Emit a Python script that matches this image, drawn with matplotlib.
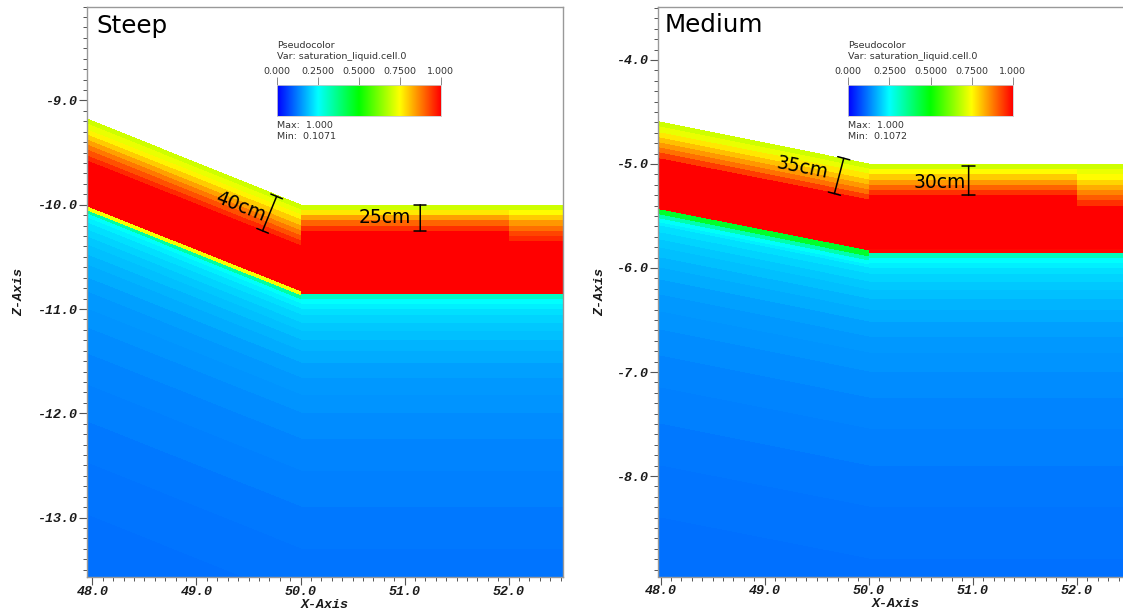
import numpy as np
import matplotlib
matplotlib.use("Agg")
import matplotlib.pyplot as plt
from matplotlib.colors import LinearSegmentedColormap
from matplotlib.ticker import MultipleLocator, FormatStrFormatter
from matplotlib.font_manager import FontProperties

# ---------------- data ----------------
# ground surface (x, z) nodes for each panel
steep_surface_x = [47.9, 50.0, 52.0, 52.6]
steep_surface_z = [-9.16, -10.0, -10.0, -10.0]
medium_surface_x = [47.9, 50.0, 52.0, 52.6]
medium_surface_z = [-4.58, -5.0, -5.0, -5.0]

# shared deep profile: layer tops (depth below surface) -> saturation
deep_depth = [1.00, 1.06, 1.13, 1.21, 1.30, 1.40, 1.52, 1.66, 1.82, 2.00,
              2.25, 2.55, 2.90, 3.30, 3.80]
deep_sat = [0.222, 0.208, 0.198, 0.188, 0.178, 0.168, 0.160, 0.152, 0.145,
            0.139, 0.132, 0.126, 0.120, 0.115, 0.110]
profile_bottom = 4.8

# Steep: slope column (48-50), flat column (50-52), right column (52-52.6)
steep_slope_depth = [0.00, 0.05, 0.10, 0.15, 0.20, 0.25, 0.30, 0.35, 0.40,
                     0.84, 0.88, 0.91, 0.95]
steep_slope_sat = [0.70, 0.73, 0.76, 0.80, 0.84, 0.88, 0.92, 0.96, 1.00,
                   0.74, 0.34, 0.255, 0.238]
steep_flat_depth = [0.00, 0.05, 0.10, 0.15, 0.20, 0.25, 0.82, 0.86, 0.90, 0.95]
steep_flat_sat = [0.70, 0.77, 0.84, 0.90, 0.95, 1.00, 0.99, 0.31, 0.252, 0.236]
steep_right_depth = [0.00, 0.05, 0.10, 0.15, 0.20, 0.25, 0.30, 0.35, 0.82,
                     0.86, 0.90, 0.95]
steep_right_sat = [0.70, 0.75, 0.80, 0.85, 0.89, 0.93, 0.96, 1.00, 0.99,
                   0.31, 0.252, 0.236]

# Medium
medium_slope_depth = [0.00, 0.05, 0.10, 0.15, 0.20, 0.25, 0.30, 0.35, 0.84,
                      0.89, 0.93, 0.97]
medium_slope_sat = [0.70, 0.73, 0.77, 0.81, 0.85, 0.89, 0.94, 1.00, 0.46,
                    0.33, 0.255, 0.235]
medium_flat_depth = [0.00, 0.05, 0.10, 0.15, 0.20, 0.25, 0.30, 0.82, 0.86,
                     0.90, 0.95]
medium_flat_sat = [0.70, 0.75, 0.80, 0.85, 0.90, 0.95, 1.00, 0.99, 0.32,
                   0.252, 0.236]
medium_right_depth = [0.00, 0.05, 0.10, 0.15, 0.20, 0.25, 0.30, 0.35, 0.40,
                      0.82, 0.86, 0.90, 0.95]
medium_right_sat = [0.70, 0.73, 0.75, 0.79, 0.83, 0.87, 0.91, 0.95, 1.00,
                    0.99, 0.32, 0.252, 0.236]

colorbar_ticks = [0.0, 0.25, 0.5, 0.75, 1.0]
colorbar_labels = ["0.000", "0.2500", "0.5000", "0.7500", "1.000"]

# ---------------- style ----------------
cmap = LinearSegmentedColormap.from_list(
    "visit_hot", [(0.0, "#0000ff"), (0.25, "#00ffff"), (0.5, "#00ff00"),
                  (0.75, "#ffff00"), (1.0, "#ff0000")])

W, H = 1123, 610
fig = plt.figure(figsize=(W / 100, H / 100), dpi=100)

tick_font = dict(family="Liberation Mono", weight="bold", style="italic", size=9.6)


def px_ax(x0, y0, x1, y1):
    return [x0 / W, 1 - y1 / H, (x1 - x0) / W, (y1 - y0) / H]


def draw_column(ax, xa, xb, za, zb, top_depth, top_sat):
    tops = list(top_depth) + list(deep_depth)
    sat = list(top_sat) + list(deep_sat)
    d = np.asarray(tops + [profile_bottom])
    X = np.column_stack([np.full(len(d), xa), np.full(len(d), xb)])
    Z = np.column_stack([za - d, zb - d])
    C = np.asarray(sat)[:, None]
    ax.pcolormesh(X, Z, C, cmap=cmap, vmin=0, vmax=1, shading="flat",
                  antialiased=False, linewidth=0)


def setup_axes(ax, xlim, ylim):
    ax.set_xlim(*xlim)
    ax.set_ylim(*ylim)
    ax.xaxis.set_major_locator(MultipleLocator(1.0))
    ax.yaxis.set_major_locator(MultipleLocator(1.0))
    ax.xaxis.set_minor_locator(MultipleLocator(0.1))
    ax.yaxis.set_minor_locator(MultipleLocator(0.1))
    ax.xaxis.set_major_formatter(FormatStrFormatter("%.1f"))
    ax.yaxis.set_major_formatter(FormatStrFormatter("%.1f"))
    ax.tick_params(which="major", direction="out", length=5.5, width=0.8,
                   color="#555555", pad=1.5)
    ax.tick_params(axis="x", which="major", pad=0.8)
    ax.tick_params(which="minor", direction="out", length=3, width=0.7,
                   color="#555555")
    fp = FontProperties(**tick_font)
    for lab in ax.get_xticklabels() + ax.get_yticklabels():
        lab.set_fontproperties(fp)
        lab.set_color("#1a1a1a")
    for s in ax.spines.values():
        s.set_color("#999999")
        s.set_linewidth(1.0)
    ax.set_xlabel("X-Axis", fontdict=tick_font, color="#1a1a1a")
    ax.set_ylabel("Z-Axis", fontdict=tick_font, color="#1a1a1a")
    ax.xaxis.label.set_verticalalignment("center")
    ax.yaxis.label.set_verticalalignment("center")


def legend(x0, x1, vmin_text):
    cax = fig.add_axes(px_ax(x0, 85, x1, 116))
    cax.imshow(np.linspace(0, 1, 256)[None, :], aspect="auto", cmap=cmap,
               extent=[0, 1, 0, 1])
    cax.set_yticks([])
    cax.set_xticks(colorbar_ticks)
    cax.set_xticklabels(colorbar_labels)
    cax.xaxis.tick_top()
    cax.tick_params(axis="x", length=6, width=0.7, color="#888888",
                    labelsize=6.8, labelcolor="#333333", pad=0.5)
    for s in cax.spines.values():
        s.set_color("#cccccc")
        s.set_linewidth(0.6)
    tx = dict(fontsize=6.8, color="#333333", ha="left", va="center",
              family="DejaVu Sans")
    fig.text(x0 / W, 1 - 45.7 / H, "Pseudocolor", **tx)
    fig.text(x0 / W, 1 - 56.5 / H, "Var: saturation_liquid.cell.0", **tx)
    fig.text(x0 / W, 1 - 125 / H, "Max:  1.000", **tx)
    fig.text(x0 / W, 1 - 136.7 / H, "Min:  " + vmin_text, **tx)


def ibeam(ax, p0, p1):
    ax.annotate("", xy=p1, xytext=p0,
                arrowprops=dict(arrowstyle="|-|,widthA=0.45,widthB=0.45",
                                color="black", lw=1.1, shrinkA=0, shrinkB=0))


ann_font = dict(family="DejaVu Sans", size=13.5, color="black")

# ---------------- left panel: Steep ----------------
ax1 = fig.add_axes(px_ax(86.9, 6.6, 562.8, 577))
cols = [(steep_slope_depth, steep_slope_sat),
        (steep_flat_depth, steep_flat_sat),
        (steep_right_depth, steep_right_sat)]
for i, (dep, sat) in enumerate(cols):
    draw_column(ax1, steep_surface_x[i], steep_surface_x[i + 1],
                steep_surface_z[i], steep_surface_z[i + 1], dep, sat)
setup_axes(ax1, (47.947, 52.52), (-13.57, -8.10))
ax1.xaxis.set_label_coords(0.5, -0.0485)
ax1.yaxis.set_label_coords(-0.142, 0.5)
ax1.text(0.019, 0.9537, "Steep", transform=ax1.transAxes, fontsize=17.7,
         family="DejaVu Sans", ha="left", va="baseline")
ax1.text(49.42, -10.02, "40cm", rotation=-np.degrees(np.arctan(0.4)),
         rotation_mode="anchor", ha="center", va="center", **ann_font)
ibeam(ax1, (49.77, -9.92), (49.635, -10.25))
ax1.text(50.81, -10.12, "25cm", ha="center", va="center", **ann_font)
ibeam(ax1, (51.15, -10.0), (51.15, -10.25))
legend(276.7, 440.7, "0.1071")

# ---------------- right panel: Medium ----------------
ax2 = fig.add_axes(px_ax(657.8, 6.6, 1133.7, 576.5))
cols = [(medium_slope_depth, medium_slope_sat),
        (medium_flat_depth, medium_flat_sat),
        (medium_right_depth, medium_right_sat)]
for i, (dep, sat) in enumerate(cols):
    draw_column(ax2, medium_surface_x[i], medium_surface_x[i + 1],
                medium_surface_z[i], medium_surface_z[i + 1], dep, sat)
setup_axes(ax2, (47.973, 52.546), (-8.966, -3.487))
ax2.xaxis.set_label_coords(0.5, -0.0485)
ax2.yaxis.set_label_coords(-0.121, 0.5)
ax2.text(0.014, 0.955, "Medium", transform=ax2.transAxes, fontsize=17.7,
         family="DejaVu Sans", ha="left", va="baseline")
ax2.text(49.36, -5.04, "35cm", rotation=-np.degrees(np.arctan(0.2)),
         rotation_mode="anchor", ha="center", va="center", **ann_font)
ibeam(ax2, (49.76, -4.945), (49.67, -5.285))
ax2.text(50.68, -5.18, "30cm", ha="center", va="center", **ann_font)
ibeam(ax2, (50.96, -5.02), (50.96, -5.30))
legend(848.3, 1012.7, "0.1072")

fig.savefig("out.png", dpi=100, facecolor="white")
